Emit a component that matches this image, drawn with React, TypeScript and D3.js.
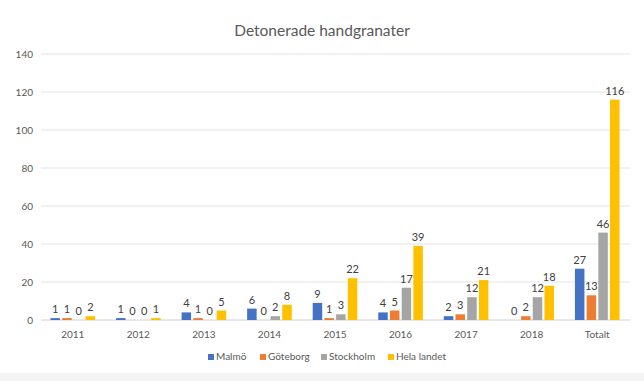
import React from "react";
import * as d3 from "d3";

const categories = ["2011", "2012", "2013", "2014", "2015", "2016", "2017", "2018", "Totalt"];
const seriesNames = ["Malmö", "Göteborg", "Stockholm", "Hela landet"];
const malmo = [1, 1, 4, 6, 9, 4, 2, 0, 27];
const goteborg = [1, 0, 1, 0, 1, 5, 3, 2, 13];
const stockholm = [0, 0, 0, 2, 3, 17, 12, 12, 46];
const helaLandet = [2, 1, 5, 8, 22, 39, 21, 18, 116];
const yTicks = [0, 20, 40, 60, 80, 100, 120, 140];
const colors = ["#4472C4", "#ED7D31", "#A5A5A5", "#FFC000"];

const W = 644;
const H = 381;
const font = "Lato, 'Open Sans', sans-serif";

export default function App() {
  const seriesValues = [malmo, goteborg, stockholm, helaLandet];
  const x = d3.scaleBand<string>().domain(categories).range([40, 630]).padding(0);
  const y = d3.scaleLinear().domain([0, 140]).range([320, 54]);
  const step = 11.7;
  const barW = 9.5;
  const inner = d3
    .scaleBand<string>()
    .domain(seriesNames)
    .range([-2 * step, 2 * step])
    .paddingInner((step - barW) / step)
    .paddingOuter(((step - barW) / step) / 2);

  const legendX = [208, 260, 321, 388];

  return (
    <div style={{ position: "fixed", left: 0, top: 0 }}>
      <svg width={W} height={H} style={{ display: "block", background: "#fff" }}>
        <rect x={0} y={373} width={W} height={H - 373} fill="#f4f4f4" />
        <text x={322} y={36} textAnchor="middle" fontFamily={font} fontSize={15.5} fill="#595959">
          Detonerade handgranater
        </text>
        {yTicks.map((t) => (
          <g key={t}>
            <line x1={41} x2={630} y1={y(t)} y2={y(t)} stroke={t === 0 ? "#d0d0d0" : "#e4e4e4"} strokeWidth={1} />
            <text x={33} y={y(t) + 3.5} textAnchor="end" fontFamily={font} fontSize={10} fill="#595959">
              {t}
            </text>
          </g>
        ))}
        {categories.map((c, ci) => {
          const cx = (x(c) as number) + x.bandwidth() / 2;
          return (
            <g key={c}>
              {seriesNames.map((s, si) => {
                const v = seriesValues[si][ci];
                const bx = cx + (inner(s) as number);
                return (
                  <g key={s}>
                    {v > 0 && (
                      <rect x={bx} y={y(v)} width={inner.bandwidth()} height={y(0) - y(v)} fill={colors[si]} />
                    )}
                    <text
                      x={bx + inner.bandwidth() / 2}
                      y={y(v) - 5}
                      textAnchor="middle"
                      fontFamily={font}
                      fontSize={11}
                      fill="#404040"
                    >
                      {v}
                    </text>
                  </g>
                );
              })}
              <text x={cx} y={338} textAnchor="middle" fontFamily={font} fontSize={10} fill="#595959">
                {c}
              </text>
            </g>
          );
        })}
        {seriesNames.map((s, si) => (
          <g key={s}>
            <rect x={legendX[si]} y={354} width={6} height={6} fill={colors[si]} />
            <text x={legendX[si] + 8} y={360} fontFamily={font} fontSize={10} fill="#595959">
              {s}
            </text>
          </g>
        ))}
      </svg>
    </div>
  );
}
